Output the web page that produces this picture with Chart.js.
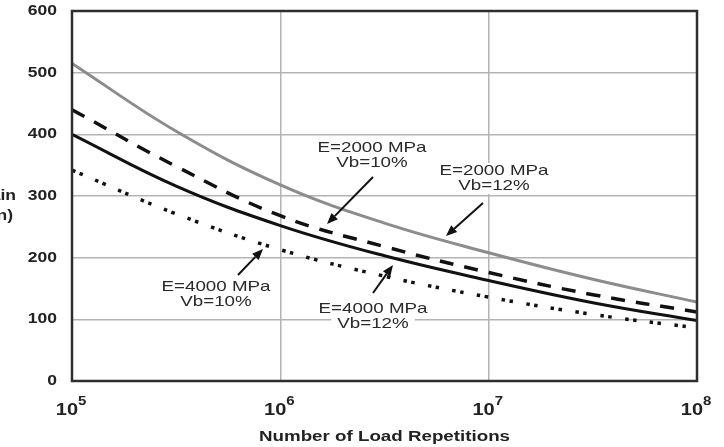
<!DOCTYPE html>
<html>
<head>
<meta charset="utf-8">
<script src="https://cdn.jsdelivr.net/npm/chart.js@4.4.1/dist/chart.umd.min.js"></script>
<style>
html,body{margin:0;padding:0;background:#fff;}
#wrap{width:724px;height:447px;position:relative;}
</style>
</head>
<body>
<div id="wrap"><canvas id="c" width="724" height="447"></canvas></div>
<script>
// ---- data ----
const loadRepetitions = [1e5, 316228, 1e6, 3162278, 1e7, 31622777, 1e8];
const e2000vb12 = [515, 405, 318, 256, 208, 165, 128];
const e2000vb10 = [440, 348, 268, 218, 176, 140, 112];
const e4000vb12 = [400, 316, 252, 203, 163, 127, 98];
const e4000vb10 = [342, 271, 213, 170, 136, 108, 86];
const xTickValues = [1e5, 1e6, 1e7, 1e8];
const xTickExponents = ['5', '6', '7', '8'];
const yTickValues = [0, 100, 200, 300, 400, 500, 600];
const xTitle = 'Number of Load Repetitions';
const yTitleLines = ['Tensile Strain', '(microstrain)'];
const annotations = [
  {lines: ['E=2000 MPa', 'Vb=10%'], at: [372, 148], from: [373, 177], to: [327, 224]},
  {lines: ['E=2000 MPa', 'Vb=12%'], at: [494, 171], from: [483, 203], to: [446, 236]},
  {lines: ['E=4000 MPa', 'Vb=10%'], at: [216, 287], from: [238, 275], to: [263, 249]},
  {lines: ['E=4000 MPa', 'Vb=12%'], at: [373, 309], from: [373, 293], to: [393, 265]}
];

const SX = 1.25;
function stretchedText(ctx, s, x, y, font, align, color) {
  ctx.save();
  ctx.font = font;
  const w = ctx.measureText(s).width * SX;
  const left = align === 'center' ? x - w / 2 : (align === 'right' ? x - w : x);
  ctx.translate(left, y);
  ctx.scale(SX, 1);
  ctx.textAlign = 'left';
  ctx.textBaseline = 'middle';
  ctx.fillStyle = color || '#222';
  ctx.fillText(s, 0, 0);
  ctx.restore();
  return w;
}
function measureStretched(ctx, s, font) {
  ctx.save(); ctx.font = font;
  const w = ctx.measureText(s).width * SX;
  ctx.restore();
  return w;
}
function arrow(ctx, from, to) {
  const [x1, y1] = from, [x2, y2] = to;
  const ang = Math.atan2(y2 - y1, x2 - x1);
  const hl = 11, hw = 4.5;
  const bx = x2 - hl * Math.cos(ang), by = y2 - hl * Math.sin(ang);
  ctx.save();
  ctx.strokeStyle = '#111';
  ctx.fillStyle = '#111';
  ctx.lineWidth = 2;
  ctx.beginPath(); ctx.moveTo(x1, y1); ctx.lineTo(bx, by); ctx.stroke();
  ctx.beginPath();
  ctx.moveTo(x2, y2);
  ctx.lineTo(bx + hw * Math.sin(ang), by - hw * Math.cos(ang));
  ctx.lineTo(bx - hw * Math.sin(ang), by + hw * Math.cos(ang));
  ctx.closePath(); ctx.fill();
  ctx.restore();
}

const decorPlugin = {
  id: 'decor',
  afterDatasetsDraw(chart) {
    const ctx = chart.ctx;
    const a = chart.chartArea;
    ctx.save();
    ctx.strokeStyle = '#2e2e2e';
    ctx.lineWidth = 2.5;
    ctx.strokeRect(a.left, a.top, a.right - a.left, a.bottom - a.top);
    ctx.restore();
    const aFont = '15px "Liberation Sans", Arial, sans-serif';
    annotations.forEach(an => {
      an.lines.forEach((ln, i) => {
        const y = an.at[1] + i * 15;
        const w = measureStretched(ctx, ln, aFont);
        ctx.save();
        ctx.fillStyle = '#fff';
        ctx.fillRect(an.at[0] - w / 2 - 6, y - 8, w + 12, 16);
        ctx.restore();
      });
      an.lines.forEach((ln, i) => {
        stretchedText(ctx, ln, an.at[0], an.at[1] + i * 15, aFont, 'center', '#2a2a2a');
      });
      arrow(ctx, an.from, an.to);
    });
  },
  afterDraw(chart) {
    const ctx = chart.ctx;
    const xs = chart.scales.x, ys = chart.scales.y;
    const tFont = 'bold 14px "Liberation Sans", Arial, sans-serif';
    yTickValues.forEach(v => {
      stretchedText(ctx, String(v), 57, ys.getPixelForValue(v), tFont, 'right', '#222');
    });
    const bFont = 'bold 16px "Liberation Sans", Arial, sans-serif';
    const eFont = 'bold 12px "Liberation Sans", Arial, sans-serif';
    xTickValues.forEach((v, i) => {
      const px = xs.getPixelForValue(v);
      stretchedText(ctx, '10', px + 6, 411, bFont, 'right', '#222');
      stretchedText(ctx, xTickExponents[i], px + 6, 402, eFont, 'left', '#222');
    });
    stretchedText(ctx, xTitle, (chart.chartArea.left + chart.chartArea.right) / 2, 437,
      'bold 15px "Liberation Sans", Arial, sans-serif', 'center', '#222');
    stretchedText(ctx, yTitleLines[0], 16, 196, tFont, 'right', '#222');
    stretchedText(ctx, yTitleLines[1], 13, 216, tFont, 'right', '#222');
  }
};

new Chart(document.getElementById('c'), {
  type: 'line',
  data: {
    labels: loadRepetitions,
    datasets: [
      {label: 'E=2000 MPa Vb=12%', data: e2000vb12, borderColor: '#8c8c8c', borderWidth: 3},
      {label: 'E=2000 MPa Vb=10%', data: e2000vb10, borderColor: '#111', borderWidth: 3.5, borderDash: [14, 11]},
      {label: 'E=4000 MPa Vb=12%', data: e4000vb12, borderColor: '#111', borderWidth: 3},
      {label: 'E=4000 MPa Vb=10%', data: e4000vb10, borderColor: '#111', borderWidth: 3.5, borderDash: [3.5, 4.5, 3.5, 13.5]}
    ].map(d => Object.assign(d, {pointRadius: 0, fill: false, tension: 0.4, borderCapStyle: 'butt'}))
  },
  options: {
    responsive: false,
    animation: false,
    events: [],
    layout: {padding: {top: 11, right: 27, left: 0, bottom: 0}},
    plugins: {legend: {display: false}, tooltip: {enabled: false}},
    scales: {
      x: {
        type: 'logarithmic', min: 1e5, max: 1e8,
        afterBuildTicks: s => { s.ticks = xTickValues.map(v => ({value: v})); },
        afterFit: s => { s.height = 66; },
        ticks: {display: false},
        grid: {color: '#b4b4b4', lineWidth: 1.5, drawTicks: false},
        border: {display: false}
      },
      y: {
        type: 'linear', min: 0, max: 600,
        afterBuildTicks: s => { s.ticks = yTickValues.map(v => ({value: v})); },
        afterFit: s => { s.width = 72; },
        ticks: {display: false},
        grid: {color: '#b4b4b4', lineWidth: 1.5, drawTicks: false},
        border: {display: false}
      }
    }
  },
  plugins: [decorPlugin]
});
</script>
</body>
</html>
